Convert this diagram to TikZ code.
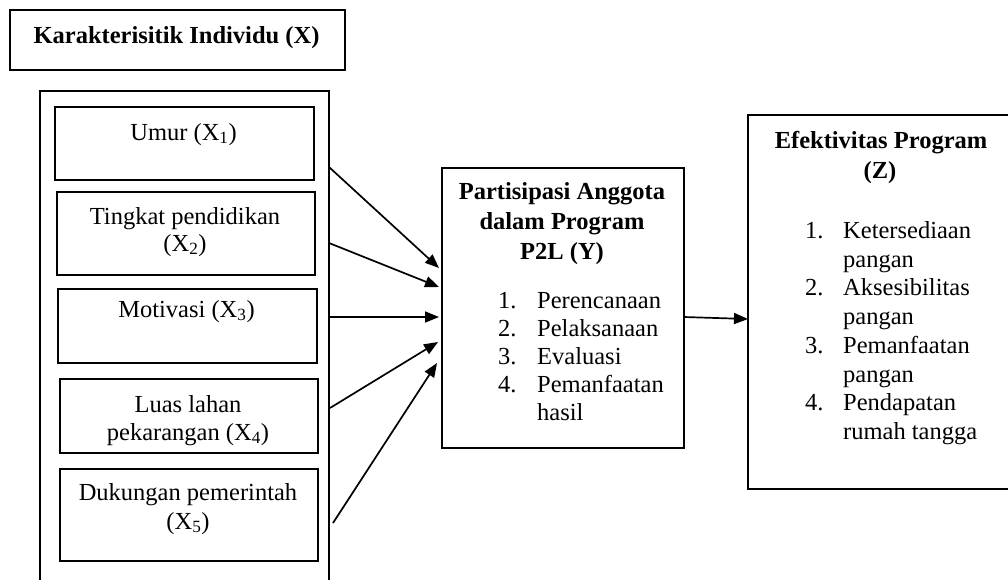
\documentclass[tikz,border=0pt]{standalone}
\usepackage{fontspec}
\setmainfont{Liberation Serif}
\usetikzlibrary{arrows.meta}
\tikzset{
  box/.style={draw, line width=1.5pt, inner sep=0pt, anchor=north west},
  txt/.style={inner sep=0pt, anchor=base, font=\fontsize{24.5}{29}\selectfont},
  ltxt/.style={inner sep=0pt, anchor=base west, font=\fontsize{24.5}{29}\selectfont},
  btxt/.style={inner sep=0pt, anchor=base, font=\fontsize{24.5}{29}\selectfont\bfseries},
  arr/.style={line width=1.7pt, -{Triangle[length=14pt,width=11pt]}}
}
\begin{document}
\begin{tikzpicture}[x=1pt,y=-1pt]
\clip (0,0) rectangle (1008,579);
\fill[white] (0,0) rectangle (1008,579);
% title box X
\node[box, minimum width=335pt, minimum height=60pt] (tx) at (9,9) {};
\node[btxt] (txl) at (176.5,43) {Karakterisitik Individu (X)};
% outer box
\node[box, minimum width=289pt, minimum height=540pt] (outer) at (39,90) {};
% inner boxes
\node[box, minimum width=259pt, minimum height=73pt] (b1) at (54,106) {};
\node[txt] (b1t) at (183.5,140) {Umur (X\textsubscript{1})};
\node[box, minimum width=258pt, minimum height=83pt] (b2) at (56,191) {};
\node[txt] (b2t) at (185,224) {Tingkat pendidikan};
\node[txt] (b2u) at (185,251) {(X\textsubscript{2})};
\node[box, minimum width=259pt, minimum height=74pt] (b3) at (57,288) {};
\node[txt] (b3t) at (186.5,317) {Motivasi (X\textsubscript{3})};
\node[box, minimum width=258pt, minimum height=74pt] (b4) at (59,378) {};
\node[txt] (b4t) at (188,412) {Luas lahan};
\node[txt] (b4u) at (188,440) {pekarangan (X\textsubscript{4})};
\node[box, minimum width=258pt, minimum height=92pt] (b5) at (59,468) {};
\node[txt] (b5t) at (188,500) {Dukungan pemerintah};
\node[txt] (b5u) at (188,529) {(X\textsubscript{5})};
% Y box
\node[box, minimum width=242pt, minimum height=280pt] (Y) at (441,167) {};
\node[btxt] (Yt1) at (562,199) {Partisipasi Anggota};
\node[btxt] (Yt2) at (562,229) {dalam Program};
\node[btxt] (Yt3) at (562,259) {P2L (Y)};
\node[ltxt] (Yn1) at (498,308) {1.};
\node[ltxt] (Yl1) at (537,308) {Perencanaan};
\node[ltxt] (Yn2) at (498,336) {2.};
\node[ltxt] (Yl2) at (537,336) {Pelaksanaan};
\node[ltxt] (Yn3) at (498,364) {3.};
\node[ltxt] (Yl3) at (537,364) {Evaluasi};
\node[ltxt] (Yn4) at (498,392) {4.};
\node[ltxt] (Yl4) at (537,392) {Pemanfaatan};
\node[ltxt] (Yl5) at (537,420) {hasil};
% Z box
\node[box, minimum width=280pt, minimum height=374pt] (Z) at (747,114) {};
\node[btxt] (Zt1) at (881,148) {Efektivitas Program};
\node[btxt] (Zt2) at (880,178) {(Z)};
\node[ltxt] (Zn1) at (805,238) {1.};
\node[ltxt] (Zl1) at (843,238) {Ketersediaan};
\node[ltxt] (Zl1b) at (843,267) {pangan};
\node[ltxt] (Zn2) at (805,295) {2.};
\node[ltxt] (Zl2) at (843,295) {Aksesibilitas};
\node[ltxt] (Zl2b) at (843,324) {pangan};
\node[ltxt] (Zn3) at (805,353) {3.};
\node[ltxt] (Zl3) at (843,353) {Pemanfaatan};
\node[ltxt] (Zl3b) at (843,382) {pangan};
\node[ltxt] (Zn4) at (805,410) {4.};
\node[ltxt] (Zl4) at (843,410) {Pendapatan};
\node[ltxt] (Zl4b) at (843,439) {rumah tangga};
% arrows
\coordinate (s1) at (329,167);
\coordinate (t1) at (439,268);
\coordinate (s2) at (329,243);
\coordinate (t2) at (439,287);
\coordinate (s3) at (329,317);
\coordinate (t3) at (439,317);
\coordinate (s4) at (330,408);
\coordinate (t4) at (438,342);
\coordinate (s5) at (333,523);
\coordinate (t5) at (437,363);
\coordinate (r0) at (684,317);
\coordinate (r1) at (748,319);
\draw[arr] (s1) -- (t1);
\draw[arr] (s2) -- (t2);
\draw[arr] (s3) -- (t3);
\draw[arr] (s4) -- (t4);
\draw[arr] (s5) -- (t5);
\draw[arr] (r0) -- (r1);
\end{tikzpicture}
\end{document}
